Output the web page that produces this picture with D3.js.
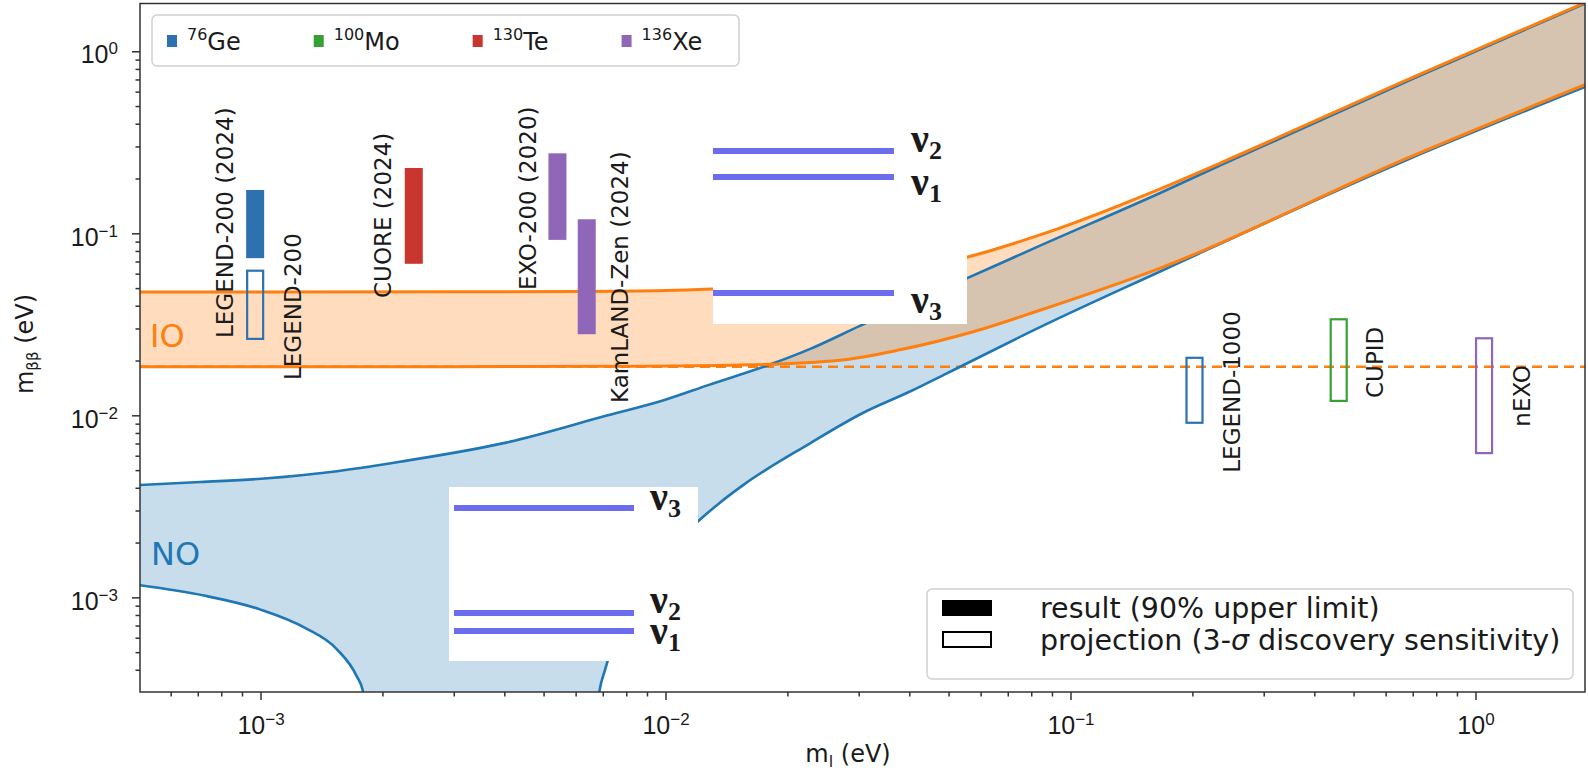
<!DOCTYPE html>
<html>
<head>
<meta charset="utf-8">
<script src="https://cdn.jsdelivr.net/npm/d3@7"></script>
<style>
  body { margin: 0; background: #fff; }
  svg { display: block; font-family: "DejaVu Sans", sans-serif; }
</style>
</head>
<body>
<div id="chart"></div>
<script>
// ---- values: [lightest mass m_l (eV), m_bb (eV)] ----
const noUpper = [[5.04e-4, 0.00414], [7.1e-4, 0.0043], [1.04e-3, 0.00451], [1.51e-3, 0.0049],
  [2.21e-3, 0.00556], [4.04e-3, 0.00708], [7.2e-3, 0.0100], [9.9e-3, 0.0121], [0.0128, 0.0147],
  [0.0181, 0.0190], [0.0227, 0.0231], [0.0302, 0.0310], [0.0554, 0.0565], [0.0841, 0.0855],
  [0.166, 0.166], [0.238, 0.240], [0.716, 0.722], [1.864, 1.83]];
const noLowerLeft = [[5.04e-4, 0.001165], [7.25e-4, 0.001023], [9.97e-4, 0.000859], [1.295e-3, 0.000676],
  [1.542e-3, 0.00052], [1.73e-3, 0.000367], [1.79e-3, 0.000306], [1.81e-3, 0.00026]];
const noLowerRight = [[6.8e-3, 0.00026], [6.87e-3, 0.000306], [7.09e-3, 0.0004], [8.0e-3, 0.00083],
  [0.0100, 0.0017], [0.0120, 0.0026], [0.0136, 0.0033], [0.0157, 0.0042], [0.0227, 0.0070],
  [0.0307, 0.0103], [0.0404, 0.0136], [0.0495, 0.0170], [0.0841, 0.0305], [0.166, 0.0615],
  [0.676, 0.2528], [1.864, 0.6366]];
const ioUpper = [[5.04e-4, 0.0476], [1e-3, 0.0476], [3e-3, 0.0477], [6e-3, 0.0479], [0.010, 0.0485],
  [0.015, 0.050], [0.022, 0.053], [0.034, 0.060], [0.0554, 0.0738], [0.0841, 0.098],
  [0.166, 0.175], [0.238, 0.247], [0.716, 0.735], [1.864, 1.85]];
const ioLower = [[5.04e-4, 0.0185], [3e-3, 0.0185], [0.008, 0.0186], [0.0153, 0.0189], [0.027, 0.0201],
  [0.0379, 0.0229], [0.0575, 0.0288], [0.0841, 0.0378], [0.166, 0.0642], [0.676, 0.258], [1.864, 0.655]];
const ioLowerFlat = 0.0185;

// experiments
const expNames = ["LEGEND-200 (2024)", "LEGEND-200", "CUORE (2024)", "EXO-200 (2020)",
  "KamLAND-Zen (2024)", "LEGEND-1000", "CUPID", "nEXO"];
const expIsotope = ["Ge", "Ge", "Te", "Xe", "Xe", "Ge", "Mo", "Xe"];
const expResult = [true, false, true, true, true, false, false, false];
const expMl = [9.7e-4, 9.7e-4, 2.39e-3, 5.41e-3, 6.39e-3, 0.2024, 0.4595, 1.05];
const expLow = [0.073, 0.0263, 0.068, 0.092, 0.0279, 0.0091, 0.0120, 0.0062];
const expHigh = [0.173, 0.0623, 0.2285, 0.275, 0.1194, 0.0207, 0.0337, 0.0265];
// where each rotated name starts (bottom of the text), in data units
const labelMl = [8.17e-4, 1.2e-3, 2.0e-3, 4.575e-3, 7.72e-3, 0.250, 0.565, 1.30];
const labelMbb = [0.0266, 0.01563, 0.0441, 0.0488, 0.01168, 0.00484, 0.01245, 0.00866];

const isotopes = ["Ge", "Mo", "Te", "Xe"];
const isotopeMass = ["76", "100", "130", "136"];
const isotopeColors = ["#2e71b0", "#35a135", "#c9352f", "#8f66b8"];

const majorTicks = [1e-3, 1e-2, 1e-1, 1];
const tickExp = ["\u22123", "\u22122", "\u22121", "0"];

const xDomain = [5.04e-4, 1.864];
const yDomain = [3.02e-4, 1.83];

// ---- layout ----
const W = 1588, H = 779;
const plot = { left: 140, right: 1585, top: 3.5, bottom: 692 };
const BLUE = "#1f77b4", ORANGE = "#ff7f0e", NU = "#6464ee";
const colorOf = iso => isotopeColors[isotopes.indexOf(iso)];

const svg = d3.select("#chart").append("svg").attr("width", W).attr("height", H);

const x = d3.scaleLog().domain(xDomain).range([plot.left, plot.right]);
const y = d3.scaleLog().domain(yDomain).range([plot.bottom, plot.top]);

svg.append("defs").append("clipPath").attr("id", "clip").append("rect")
  .attr("x", plot.left).attr("y", plot.top)
  .attr("width", plot.right - plot.left).attr("height", plot.bottom - plot.top);

const chart = svg.append("g").attr("clip-path", "url(#clip)");

const line = d3.line().x(d => x(d[0])).y(d => y(d[1])).curve(d3.curveMonotoneX);
const cont = pts => line(pts).replace(/^M/, "L");

// NO band (no lower bound where the cancellation happens)
const floorV = yDomain[0] / 3;
const leftEnd = noLowerLeft[noLowerLeft.length - 1];
const noArea = line(noUpper) + cont(noLowerRight.slice().reverse())
  + `L${x(noLowerRight[0][0])},${y(floorV)}L${x(leftEnd[0])},${y(floorV)}`
  + cont(noLowerLeft.slice().reverse()) + "Z";
chart.append("path").attr("d", noArea).attr("fill", BLUE).attr("fill-opacity", 0.25);

// IO band
const ioArea = line(ioUpper) + cont(ioLower.slice().reverse()) + "Z";
chart.append("path").attr("d", ioArea).attr("fill", ORANGE).attr("fill-opacity", 0.27);

// dashed floor of IO
chart.append("path")
  .attr("d", line([[xDomain[0], ioLowerFlat], [xDomain[1], ioLowerFlat]]))
  .attr("fill", "none").attr("stroke", ORANGE).attr("stroke-width", 2.6)
  .attr("stroke-dasharray", "10,6");

[noUpper, noLowerLeft, noLowerRight].forEach(c => {
  chart.append("path").attr("d", line(c)).attr("fill", "none")
    .attr("stroke", BLUE).attr("stroke-width", 2.6);
});
[ioUpper, ioLower].forEach(c => {
  chart.append("path").attr("d", line(c)).attr("fill", "none")
    .attr("stroke", ORANGE).attr("stroke-width", 3);
});

// experiment bars
const barW = 18;
const idx = d3.range(expNames.length);
chart.selectAll("rect.exp").data(idx).enter().append("rect")
  .attr("class", "exp")
  .attr("x", i => x(expMl[i]) - (expResult[i] ? barW / 2 : barW / 2 - 1))
  .attr("width", i => expResult[i] ? barW : barW - 2)
  .attr("y", i => y(expHigh[i]))
  .attr("height", i => y(expLow[i]) - y(expHigh[i]))
  .attr("fill", i => expResult[i] ? colorOf(expIsotope[i]) : "none")
  .attr("stroke", i => expResult[i] ? "none" : colorOf(expIsotope[i]))
  .attr("stroke-width", 2.2);

chart.selectAll("text.exp").data(idx).enter().append("text")
  .attr("class", "exp")
  .attr("transform", i => `translate(${x(labelMl[i]) + 8.4},${y(labelMbb[i])}) rotate(-90)`)
  .attr("font-size", 23).attr("fill", "#1a1a1a")
  .text(i => expNames[i]);

// IO / NO tags
chart.append("text").attr("x", plot.left + 10).attr("y", 346.5)
  .attr("font-size", 32).attr("fill", ORANGE).text("IO");
chart.append("text").attr("x", plot.left + 11).attr("y", 564.5)
  .attr("font-size", 32).attr("fill", BLUE).text("NO");

// mass-ordering sketches (pasted pictures in the original)
const insets = [
  { x0: 713, x1: 967, y0: 116, y1: 324, lx0: 713, lx1: 894, tx: 911,
    lines: [151, 177, 293], labels: [["2", 152], ["1", 195], ["3", 313]] },
  { x0: 449, x1: 698, y0: 487, y1: 661, lx0: 454, lx1: 634, tx: 650,
    lines: [508, 613, 631], labels: [["3", 510], ["2", 613], ["1", 644]] }
];
insets.forEach(b => {
  const g = svg.append("g");
  g.append("rect").attr("x", b.x0).attr("y", b.y0)
    .attr("width", b.x1 - b.x0).attr("height", b.y1 - b.y0).attr("fill", "#fff");
  b.lines.forEach(ly => {
    g.append("line").attr("x1", b.lx0).attr("x2", b.lx1).attr("y1", ly).attr("y2", ly)
      .attr("stroke", NU).attr("stroke-width", 6).attr("stroke-opacity", 0.95);
  });
  b.labels.forEach(([s, by]) => {
    const t = g.append("text").attr("x", b.tx).attr("y", by)
      .attr("font-family", "'Liberation Serif', serif").attr("font-weight", "bold")
      .attr("font-size", 40).attr("fill", "#1a1a1a");
    t.append("tspan").text("\u03bd");
    t.append("tspan").attr("dy", 7).attr("font-size", 26).text(s);
  });
});

// ---- axes ----
const minorTicks = [];
for (let k = -4; k <= 0; k++) for (let m = 2; m <= 9; m++) minorTicks.push(m * Math.pow(10, k));
const xMinor = minorTicks.filter(v => v > xDomain[0] && v < xDomain[1]);
const yMinor = minorTicks.filter(v => v > yDomain[0] && v < yDomain[1]);

const gx = svg.append("g").attr("transform", `translate(0,${plot.bottom})`);
gx.append("g").call(d3.axisBottom(x).tickValues(xMinor).tickSize(4.5).tickFormat(""));
const gxMaj = gx.append("g").call(d3.axisBottom(x).tickValues(majorTicks).tickSize(8).tickFormat(""));

const gy = svg.append("g").attr("transform", `translate(${plot.left},0)`);
gy.append("g").call(d3.axisLeft(y).tickValues(yMinor).tickSize(4.5).tickFormat(""));
const gyMaj = gy.append("g").call(d3.axisLeft(y).tickValues(majorTicks).tickSize(8).tickFormat(""));

[gx, gy].forEach(g => {
  g.selectAll(".domain").remove();
  g.selectAll(".tick line").attr("stroke", "#333").attr("stroke-width", 1.5);
});

gxMaj.selectAll(".tick").each(function (d, i) {
  const t = d3.select(this).append("text").attr("y", 41.5).attr("text-anchor", "middle")
    .attr("font-size", 25).attr("fill", "#1a1a1a");
  t.append("tspan").text("10");
  t.append("tspan").attr("dy", -9).attr("font-size", 17).text(tickExp[i]);
});
gyMaj.selectAll(".tick").each(function (d, i) {
  const t = d3.select(this).append("text").attr("x", -22).attr("y", 11.7).attr("text-anchor", "end")
    .attr("font-size", 25).attr("fill", "#1a1a1a");
  t.append("tspan").text("10");
  t.append("tspan").attr("dy", -9).attr("font-size", 17).text(tickExp[i]);
});

// frame
svg.append("rect").attr("x", plot.left).attr("y", plot.top)
  .attr("width", plot.right - plot.left).attr("height", plot.bottom - plot.top)
  .attr("fill", "none").attr("stroke", "#333").attr("stroke-width", 1.5);

// axis titles
const xt = svg.append("text").attr("x", 848).attr("y", 762).attr("text-anchor", "middle")
  .attr("font-size", 24).attr("fill", "#1a1a1a");
xt.append("tspan").text("m");
xt.append("tspan").attr("dy", 5).attr("font-size", 16).text("l");
xt.append("tspan").attr("dy", -5).text(" (eV)");

const yt = svg.append("text").attr("transform", "translate(33,344) rotate(-90)")
  .attr("text-anchor", "middle").attr("font-size", 24).attr("fill", "#1a1a1a");
yt.append("tspan").text("m");
yt.append("tspan").attr("dy", 5).attr("font-size", 15).text("\u03b2\u03b2");
yt.append("tspan").attr("dy", -5).text(" (eV)");

// ---- isotope legend ----
const lg = svg.append("g");
lg.append("rect").attr("x", 152).attr("y", 15).attr("width", 587).attr("height", 51)
  .attr("rx", 5).attr("fill", "#fff").attr("fill-opacity", 0.85)
  .attr("stroke", "#d0d0d0").attr("stroke-width", 1.5);
let cx = 172;
isotopes.forEach((iso, i) => {
  lg.append("rect").attr("x", cx - 5).attr("y", 35).attr("width", 10).attr("height", 12)
    .attr("fill", isotopeColors[i]);
  const t = lg.append("text").attr("x", cx + 15).attr("y", 50)
    .attr("font-size", 24).attr("fill", "#1a1a1a");
  t.append("tspan").attr("dy", -10).attr("font-size", 16).text(isotopeMass[i]);
  t.append("tspan").attr("dy", 10).text(iso);
  cx = cx + 15 + t.node().getComputedTextLength() + 78;
});

// ---- result / projection legend ----
const lb = svg.append("g");
lb.append("rect").attr("x", 927).attr("y", 589).attr("width", 646).attr("height", 90)
  .attr("rx", 5).attr("fill", "#fff").attr("fill-opacity", 0.85)
  .attr("stroke", "#d0d0d0").attr("stroke-width", 1.5);
lb.append("rect").attr("x", 942).attr("y", 600).attr("width", 50).attr("height", 16).attr("fill", "#000");
lb.append("rect").attr("x", 943).attr("y", 632).attr("width", 48).attr("height", 15)
  .attr("fill", "none").attr("stroke", "#000").attr("stroke-width", 2);
lb.append("text").attr("x", 1040).attr("y", 618).attr("font-size", 28.5).attr("fill", "#1a1a1a")
  .text("result (90% upper limit)");
const pt = lb.append("text").attr("x", 1040).attr("y", 650).attr("font-size", 28.5).attr("fill", "#1a1a1a");
pt.append("tspan").text("projection (3-");
pt.append("tspan").attr("font-style", "italic").text("\u03c3");
pt.append("tspan").text(" discovery sensitivity)");
</script>
</body>
</html>
